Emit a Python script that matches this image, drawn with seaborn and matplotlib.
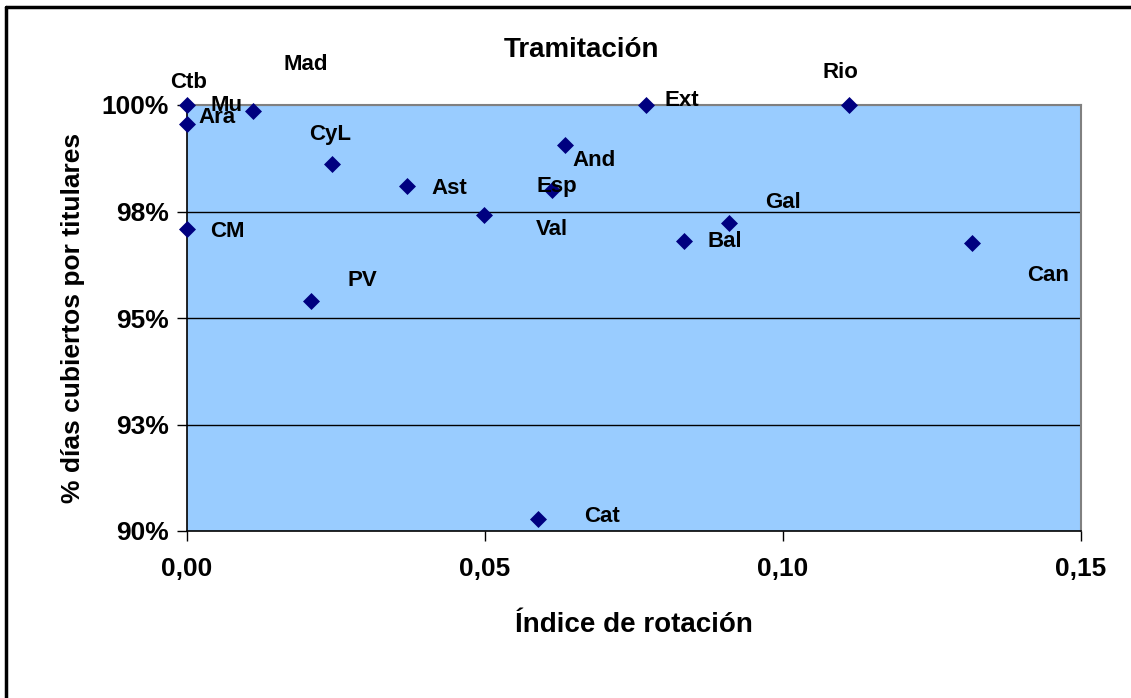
import matplotlib
matplotlib.use("Agg")
import matplotlib.pyplot as plt
from matplotlib.lines import Line2D
import pandas as pd
import seaborn as sns

# Data
regions = ["Ctb", "Mu", "Ara", "Mad", "CyL", "Ast", "And", "Esp", "Ext", "Rio",
           "Val", "Gal", "Bal", "Can", "CM", "PV", "Cat"]
rotation = [0.000, 0.011, 0.000, 0.020, 0.0243, 0.0369, 0.0634, 0.0612, 0.0770, 0.1110,
            0.0498, 0.0909, 0.0834, 0.1317, 0.000, 0.0208, 0.0589]
coverage = [100.0, 99.86, 99.55, 100.94, 98.61, 98.10, 99.06, 98.00, 100.0, 100.0,
            97.42, 97.23, 96.81, 96.76, 97.09, 95.40, 90.28]

y_ticks = [90, 92.5, 95, 97.5, 100]
y_tick_labels = ["90%", "93%", "95%", "98%", "100%"]
x_ticks = [0.0, 0.05, 0.10, 0.15]
x_tick_labels = ["0,00", "0,05", "0,10", "0,15"]

# label offsets in pixels (dx right, dy up) relative to each point
label_offsets = {
    "Ctb": (2, 23), "Mu": (-26, 5), "Ara": (30, 7), "Mad": (0, 0), "CyL": (-2, 30),
    "Ast": (42, -3), "And": (29, -15), "Esp": (5, 4), "Ext": (36, 4), "Rio": (-8, 33),
    "Val": (68, -15), "Gal": (54, 21), "Bal": (41, -1), "Can": (76, -32), "CM": (40, -3),
    "PV": (51, 20), "Cat": (64, 3),
}

df = pd.DataFrame({"region": regions, "rotation": rotation, "coverage": coverage})
# points beyond the y range are not drawn (only their label is), like in the original
shown = df[df["coverage"] <= 100]

sns.set_style("white")
plt.rcParams["font.family"] = ["Liberation Sans", "DejaVu Sans"]
plt.rcParams.update({"text.color": "black", "axes.labelcolor": "black",
                     "xtick.color": "black", "ytick.color": "black"})

fig = plt.figure(figsize=(11.31, 6.98), dpi=100)
ax = fig.add_axes([187 / 1131, 1 - 531 / 698, 894 / 1131, 426 / 698])
ax.set_facecolor("#99CCFF")

sns.scatterplot(data=shown, x="rotation", y="coverage", marker="D", s=75,
                color="#000080", edgecolor="#000080", linewidth=0, ax=ax,
                zorder=3, clip_on=False)

ax.set_xlim(0, 0.15)
ax.set_ylim(90, 100)
ax.set_yticks(y_ticks)
ax.set_yticklabels(y_tick_labels, fontsize=19, fontweight="bold")
ax.set_xticks(x_ticks)
ax.set_xticklabels(x_tick_labels, fontsize=19, fontweight="bold")
ax.tick_params(axis="both", direction="out", length=7, width=1, color="black",
               left=True, bottom=True, pad=6)
ax.tick_params(axis="x", pad=12)

for y in y_ticks[1:-1]:
    ax.axhline(y, color="black", lw=1, zorder=1)
ax.axhline(100, color="#808080", lw=1.5, zorder=1)

for side in ["left", "bottom"]:
    ax.spines[side].set_color("black")
    ax.spines[side].set_linewidth(1.2)
for side in ["top", "right"]:
    ax.spines[side].set_color("#808080")
    ax.spines[side].set_linewidth(1.5)

ax.set_xlabel("Índice de rotación", fontsize=20, fontweight="bold", labelpad=22)
ax.set_ylabel("% días cubiertos por titulares", fontsize=19, fontweight="bold", labelpad=12)
fig.text(581 / 1131, 1 - 50 / 698, "Tramitación", fontsize=20, fontweight="bold",
         ha="center", va="center")

for name, x, y in zip(regions, rotation, coverage):
    dx, dy = label_offsets[name]
    ax.annotate(name, (x, y), xytext=(dx * 0.72, dy * 0.72), textcoords="offset points",
                ha="center", va="center", fontsize=16, fontweight="bold",
                annotation_clip=False, zorder=4)

# outer chart frame (only top and left edges are visible in the original crop)
fig.add_artist(Line2D([6 / 1131, 1.0], [1 - 7 / 698, 1 - 7 / 698], color="black", lw=2.5,
                      transform=fig.transFigure))
fig.add_artist(Line2D([6 / 1131, 6 / 1131], [0.0, 1 - 7 / 698], color="black", lw=2.5,
                      transform=fig.transFigure))

fig.savefig("out.png", dpi=100)
